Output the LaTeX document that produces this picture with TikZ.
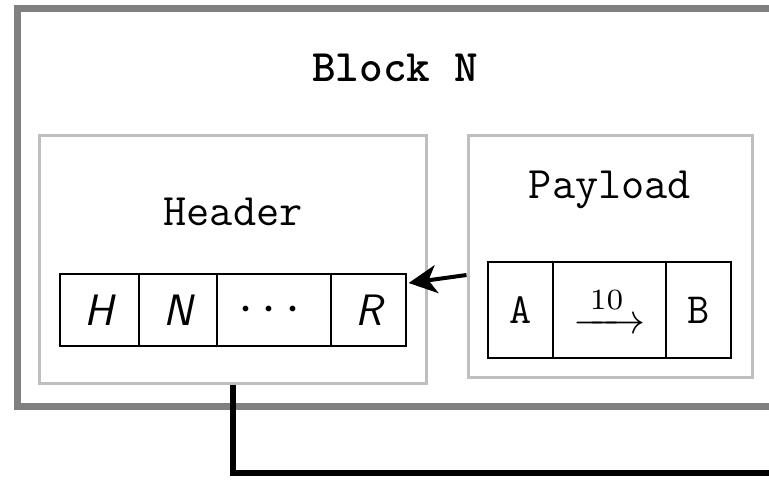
\documentclass[tikz,border=0pt]{standalone}
\usepackage{graphicx}
\usepackage{amsmath}
\usetikzlibrary{arrows.meta}
\tikzset{
  txt/.style={font=\fontsize{45}{50}\selectfont\ttfamily, inner sep=0pt},
  frame/.style={draw=black!25, line width=3pt, inner sep=0pt},
  cell/.style={draw=black, line width=1.4pt, inner sep=0pt},
  hcell/.style={cell, minimum height=72pt, font=\fontsize{44}{48}\selectfont\sffamily\itshape},
  pcell/.style={cell, minimum height=96pt, font=\fontsize{43}{48}\selectfont\ttfamily},
}
\begin{document}
\begin{tikzpicture}[x=1pt,y=-1pt]
\useasboundingbox (0,0) rectangle (769,490);
\clip (0,0) rectangle (769,490);

% outer block frame, running off to the right
\node[draw=black!50, line width=7pt, minimum width=773pt, minimum height=398pt] (block) at (403.5,207) {};
\node[txt, font=\fontsize{45}{50}\selectfont\ttfamily\bfseries] (title) at (395,68) {Block N};

% header and payload frames
\node[frame, minimum width=387pt, minimum height=248pt] (header) at (233,259) {};
\node[frame, minimum width=284pt, minimum height=242pt] (payload) at (610,256) {};
\node[txt] (hlabel) at (233,212) {Header};
\node[txt] (plabel) at (610,190) {Payload};

% header fields
\node[hcell, minimum width=79pt]  (H) at (99.5,310) {H};
\node[hcell, minimum width=78pt]  (N) at (178,310) {N};
\node[hcell, minimum width=114pt] (D) at (274,310) {\scalebox{5.4}{\normalsize$\cdots$}};
\node[hcell, minimum width=75pt]  (R) at (368.5,310) {R};

% payload fields
\node[pcell, minimum width=65pt]  (A) at (520.5,310) {A};
\node[pcell, minimum width=113pt] (T) at (609.5,310) {\scalebox{4.2}{\normalsize$\xrightarrow{\,10\,}$}};
\node[pcell, minimum width=65pt]  (B) at (698.5,310) {B};

% payload points to header
\draw[line width=4pt, -{Stealth[length=28pt,width=28pt,inset=8pt]}]
  ([yshift=-19pt]payload.west) -- ([shift={(2pt,27pt)}]R.east);

% link leaving the block
\coordinate (exit) at (800,473);
\draw[line width=6pt] (header.south) |- (exit);
\end{tikzpicture}
\end{document}
